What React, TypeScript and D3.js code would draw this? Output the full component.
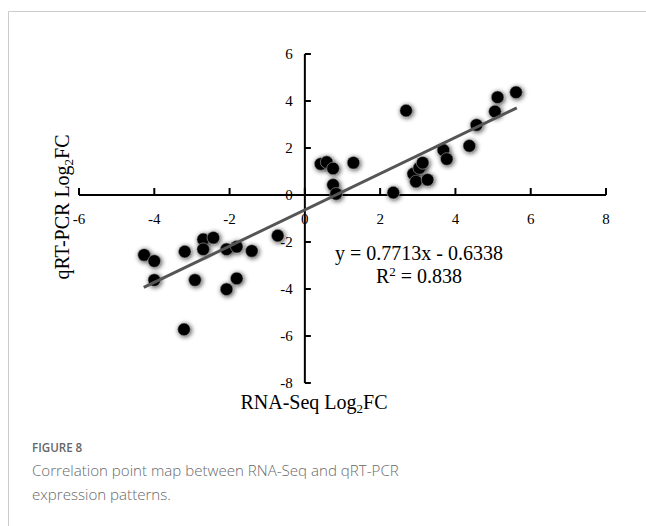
import React from "react";
import * as d3 from "d3";

const rnaSeq = [0.42, 0.58, 0.75, 0.75, 0.83, 1.29, 2.35, 2.69, 2.88, 2.95, 3.04, 3.13, 3.26, 3.68, 3.77, 4.37, 4.56, 5.05, 5.12, 5.61,
  -4.27, -4.0, -4.0, -3.19, -3.21, -2.92, -2.7, -2.7, -2.43, -2.08, -1.81, -2.08, -1.81, -1.41, -0.72];
const qrtPcr = [1.32, 1.4, 1.13, 0.43, 0.05, 1.37, 0.1, 3.59, 0.9, 0.57, 1.15, 1.37, 0.65, 1.91, 1.53, 2.09, 2.98, 3.55, 4.16, 4.37,
  -2.55, -2.81, -3.62, -2.41, -5.72, -3.62, -1.89, -2.31, -1.82, -2.31, -2.2, -4.01, -3.55, -2.38, -1.73];
const xTicks = [-6, -4, -2, 0, 2, 4, 6, 8];
const yTicks = [-8, -6, -4, -2, 0, 2, 4, 6];
const slope = 0.7713;
const intercept = -0.6338;
const fitRange = [-4.28, 5.63];

const serif = "'Liberation Serif', 'Times New Roman', serif";
const sans = "'Open Sans', 'Noto Sans', sans-serif";

export default function App() {
  const x = d3.scaleLinear().domain([-6, 8]).range([79, 606]);
  const y = d3.scaleLinear().domain([-8, 6]).range([383, 54]);
  const x0 = x(0);
  const y0 = y(0);
  const line = d3.line<number>().x((d) => x(d)).y((d) => y(slope * d + intercept));
  const pts = rnaSeq.map((v, i) => [v, qrtPcr[i]]);

  return (
    <svg width={646} height={526} style={{ position: "absolute", left: 0, top: 0 }}>
      <defs>
        <filter id="glow" x="-80%" y="-80%" width="260%" height="260%">
          <feGaussianBlur in="SourceAlpha" stdDeviation="2.6" result="b" />
          <feOffset in="b" dx="0.6" dy="1" result="o" />
          <feComponentTransfer in="o" result="s">
            <feFuncA type="linear" slope="0.75" />
          </feComponentTransfer>
          <feMerge>
            <feMergeNode in="s" />
            <feMergeNode in="SourceGraphic" />
          </feMerge>
        </filter>
      </defs>
      <rect x={0} y={0} width={646} height={526} fill="#fff" />
      <path d="M8.5,526 L8.5,11.5 L646,11.5" fill="none" stroke="#cccccc" strokeWidth={1} />

      {/* axes */}
      <line x1={x(-6)} x2={x(8)} y1={y0} y2={y0} stroke="#000" strokeWidth={2} />
      <line x1={x0} x2={x0} y1={y(6)} y2={y(-8)} stroke="#000" strokeWidth={2} />
      {xTicks.map((t) => (
        <g key={"x" + t}>
          <line x1={x(t)} x2={x(t)} y1={y0} y2={y0 - 7} stroke="#000" strokeWidth={2} />
          <text x={x(t)} y={y0 + 29} textAnchor="middle" fontFamily={serif} fontSize={15} fill="#000">
            {t}
          </text>
        </g>
      ))}
      {yTicks.map((t) => (
        <g key={"y" + t}>
          <line x1={x0} x2={x0 + 6} y1={y(t)} y2={y(t)} stroke="#000" strokeWidth={2} />
          <text x={x0 - 12} y={y(t) + 5} textAnchor="end" fontFamily={serif} fontSize={15} fill="#000">
            {t}
          </text>
        </g>
      ))}

      {/* points */}
      {pts.map((p, i) => (
        <circle key={i} cx={x(p[0])} cy={y(p[1])} r={6.3} fill="#000" stroke="#9a9a9a" strokeWidth={0.6} filter="url(#glow)" />
      ))}

      {/* regression line */}
      <path d={line(fitRange) || ""} fill="none" stroke="#555" strokeWidth={3} />

      {/* equation */}
      <text x={419} y={260} textAnchor="middle" fontFamily={serif} fontSize={20} fill="#000">
        y = 0.7713x - 0.6338
      </text>
      <text x={419} y={283} textAnchor="middle" fontFamily={serif} fontSize={20} fill="#000">
        R<tspan dy={-7} fontSize={13}>2</tspan>
        <tspan dy={7}> = 0.838</tspan>
      </text>

      {/* axis titles */}
      <text x={314} y={409} textAnchor="middle" fontFamily={serif} fontSize={20} fill="#000">
        RNA-Seq Log<tspan dy={4} fontSize={13}>2</tspan>
        <tspan dy={-4}>FC</tspan>
      </text>
      <text transform={`translate(69,207) rotate(-90)`} textAnchor="middle" fontFamily={serif} fontSize={20} fill="#000">
        qRT-PCR Log<tspan dy={4} fontSize={13}>2</tspan>
        <tspan dy={-4}>FC</tspan>
      </text>

      {/* caption */}
      <text x={32} y={452} fontFamily={sans} fontSize={11.6} fontWeight={600} fill="#666">
        FIGURE 8
      </text>
      <text x={32} y={476} fontFamily={sans} fontSize={15.1} fontWeight={300} fill="#6a6a6a">
        Correlation point map between RNA-Seq and qRT-PCR
      </text>
      <text x={32} y={500} fontFamily={sans} fontSize={15.1} fontWeight={300} fill="#6a6a6a">
        expression patterns.
      </text>
    </svg>
  );
}
